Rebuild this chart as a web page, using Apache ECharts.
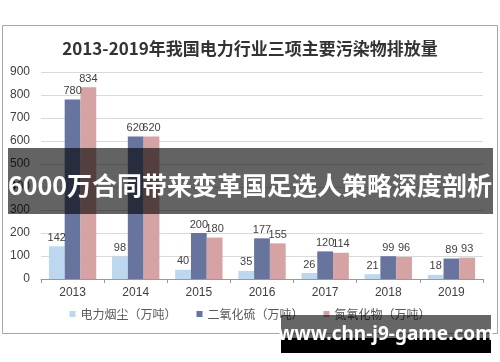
<!DOCTYPE html>
<html><head><meta charset="utf-8">
<script src="https://cdn.jsdelivr.net/npm/echarts@6/dist/echarts.min.js"></script>
<style>html,body{margin:0;padding:0;background:#fff}#c{width:500px;height:362px}</style>
</head><body><div id="c"></div>
<script>
const categories = ['2013','2014','2015','2016','2017','2018','2019'];
const dust = [142, 98, 40, 35, 26, 21, 18];
const so2 = [780, 620, 200, 177, 120, 99, 89];
const nox = [834, 620, 180, 155, 114, 96, 93];
const seriesNames = ['电力烟尘（万吨）','二氧化硫（万吨）','氮氧化物（万吨）'];
const yTicks = {min: 0, max: 900, interval: 100};

const FONT = '"Liberation Sans", "Noto Sans CJK SC", sans-serif';
const chart = echarts.init(document.getElementById('c'), null, {renderer: 'canvas'});
const lbl = {show: true, position: 'top', color: '#404040', fontSize: 11, fontFamily: FONT, distance: 3};
chart.setOption({
  animation: false,
  textStyle: {fontFamily: FONT},
  title: {text: '2013-2019年我国电力行业三项主要污染物排放量', left: 'center', top: 35,
    textStyle: {fontSize: 17, fontWeight: 'bold', color: '#333', fontFamily: '"Noto Sans CJK SC", sans-serif'}},
  legend: {bottom: 37, left: 'center', itemWidth: 6, itemHeight: 6, itemGap: 20, icon: 'rect',
    textStyle: {fontSize: 12, color: '#595959', fontFamily: '"Noto Sans CJK SC", sans-serif'},
    data: seriesNames},
  grid: {left: 41, right: 17, top: 72, height: 207},
  xAxis: {type: 'category', data: categories,
    axisLine: {lineStyle: {color: '#999'}},
    axisTick: {show: true, length: 4, inside: false, lineStyle: {color: '#999'}},
    axisLabel: {fontSize: 12, color: '#404040', margin: 8}},
  yAxis: {type: 'value', min: yTicks.min, max: yTicks.max, interval: yTicks.interval,
    axisLine: {show: false}, axisTick: {show: false},
    splitLine: {lineStyle: {color: '#d9d9d9'}},
    axisLabel: {fontSize: 12, color: '#404040', margin: 11}},
  series: [
    {name: seriesNames[0], type: 'bar', data: dust, itemStyle: {color: '#bdd7ee'}, barGap: '0%', barCategoryGap: '25%', label: lbl},
    {name: seriesNames[1], type: 'bar', data: so2, itemStyle: {color: '#67749e'}, label: lbl},
    {name: seriesNames[2], type: 'bar', data: nox, itemStyle: {color: '#d5a3a3'}, label: lbl}
  ],
  graphic: [
    {type: 'rect', z: -10, silent: true, shape: {x: 2.5, y: 25.5, width: 495, height: 308},
      style: {fill: 'none', stroke: '#a6a6a6', lineWidth: 1}},
    {type: 'rect', z: 100, silent: true, shape: {x: 8, y: 148, width: 485, height: 66},
      style: {fill: 'rgba(0,0,0,0.61)'}},
    {type: 'text', z: 101, silent: true, x: 250, y: 185,
      style: {text: '6000万合同带来变革国足选人策略深度剖析', fill: '#fff', align: 'center', verticalAlign: 'middle',
        font: 'bold 25px "Noto Sans CJK SC", sans-serif'}},
    {type: 'rect', z: 100, silent: true, shape: {x: 281, y: 315, width: 210, height: 23},
      style: {fill: 'rgba(0,0,0,0.6)'}},
    {type: 'rect', z: 100, silent: true, shape: {x: 281, y: 338, width: 210, height: 15},
      style: {fill: '#000'}},
    {type: 'text', z: 101, silent: true, x: 386, y: 335,
      style: {text: 'www.chn-j9-game.com', fill: '#fff', align: 'center', verticalAlign: 'middle',
        font: 'bold 19px "Noto Sans", sans-serif'}}
  ]
});
</script></body></html>
